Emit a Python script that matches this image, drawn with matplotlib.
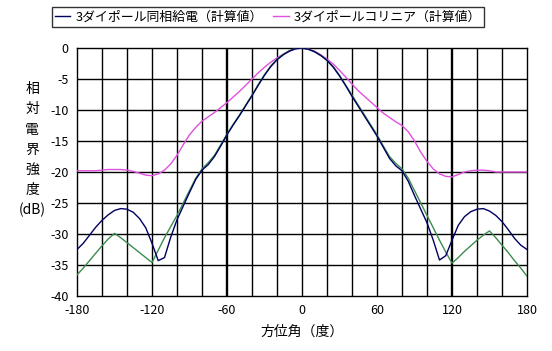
import numpy as np
import matplotlib
matplotlib.use('Agg')
import matplotlib.pyplot as plt

plt.rcParams['font.family'] = ['Noto Sans CJK JP', 'DejaVu Sans']
plt.rcParams['axes.unicode_minus'] = False

# angles, degrees (-180 .. 180, step 5)
angle = np.arange(-180, 181, 5)

# 3ダイポール同相給電 (計算値)
inphase = [-32.5, -31.5, -30.2, -28.9, -27.8, -26.9, -26.2, -25.9, -26.0, -26.5,
           -27.5, -29.0, -31.5, -34.3, -33.8, -30.5, -27.7, -25.5, -23.3, -21.2,
           -19.7, -18.8, -17.5, -15.8, -14.0, -12.4, -10.9, -9.3, -7.7, -6.0,
           -4.4, -3.0, -1.9, -1.1, -0.5, -0.1, 0.0,
           -0.2, -0.6, -1.2, -2.0, -3.1, -4.5, -6.1, -7.8, -9.4, -11.0,
           -12.6, -14.2, -16.0, -17.8, -19.0, -19.8, -21.5, -23.8, -26.0, -28.2,
           -31.0, -34.2, -33.5, -31.0, -28.6, -27.2, -26.4, -26.0, -25.9, -26.3,
           -27.0, -28.0, -29.3, -30.7, -31.8, -32.5]

# 3ダイポールコリニア (計算値)
collinear = [-19.8, -19.8, -19.8, -19.8, -19.7, -19.6, -19.6, -19.6, -19.7, -19.9,
             -20.2, -20.5, -20.6, -20.3, -19.7, -18.7, -17.3, -15.6, -14.0, -12.8,
             -11.8, -11.1, -10.4, -9.6, -8.8, -7.9, -7.0, -6.0, -5.0, -4.0,
             -3.1, -2.3, -1.6, -1.0, -0.5, -0.15, 0.0,
             -0.15, -0.5, -1.1, -1.8, -2.6, -3.6, -4.7, -5.8, -6.9, -7.8,
             -8.7, -9.6, -10.5, -11.2, -11.9, -12.5, -13.5, -15.0, -16.8, -18.3,
             -19.5, -20.3, -20.7, -20.8, -20.4, -20.0, -19.8, -19.7, -19.7, -19.8,
             -20.0, -20.0, -20.0, -20.0, -20.0, -20.0]

# third curve (no legend entry)
third = [-36.6, -35.5, -34.3, -33.1, -31.9, -30.8, -29.9, -30.6, -31.4, -32.2,
         -33.0, -33.8, -34.6, -32.6, -30.6, -28.8, -27.0, -25.0, -23.0, -21.0,
         -19.5, -18.5, -17.3, -15.6, -13.9, -12.3, -10.8, -9.2, -7.6, -5.9,
         -4.3, -2.9, -1.8, -1.0, -0.4, -0.1, 0.0,
         -0.2, -0.6, -1.2, -2.0, -3.0, -4.4, -6.0, -7.6, -9.2, -10.8,
         -12.4, -14.0, -15.8, -17.5, -18.6, -19.5, -21.0, -23.0, -25.0, -27.0,
         -29.0, -31.0, -32.9, -34.7, -33.8, -32.8, -31.9, -31.0, -30.2, -29.5,
         -30.6, -31.8, -33.0, -34.3, -35.5, -36.8]

xticks = [-180, -120, -60, 0, 60, 120, 180]
yticks = list(range(-40, 1, 5))

fig = plt.figure(figsize=(5.52, 3.51), dpi=100)
ax = fig.add_axes([77 / 552, 1 - 296 / 351, 450 / 552, 248 / 351])

# grid
for gx in range(-160, 180, 20):
    lw = 1.7 if gx in (-60, 120) else 1.0
    ax.axvline(gx, color='black', lw=lw, zorder=1)
for gy in range(-35, 0, 5):
    ax.axhline(gy, color='black', lw=1.0, zorder=1)

l1, = ax.plot(angle, inphase, color='#000060', lw=1.0, zorder=4)
l2, = ax.plot(angle, collinear, color='#e050e0', lw=1.0, zorder=3)
ax.plot(angle, third, color='#3c8c50', lw=1.0, zorder=3)

ax.set_xlim(-180, 180)
ax.set_ylim(-40, 0)
ax.set_xticks(xticks)
ax.set_yticks(yticks)
ax.tick_params(length=0, labelsize=9, pad=6)
for s in ax.spines.values():
    s.set_color('black')
    s.set_linewidth(1.0)

ax.set_xlabel('方位角（度）', fontsize=10, labelpad=5)
fig.text(32 / 552, 1 - 150 / 351, '相\n対\n電\n界\n強\n度\n(dB)', fontsize=10,
         ha='center', va='center', linespacing=1.55)

leg = fig.legend([l1, l2], ['3ダイポール同相給電（計算値）', '3ダイポールコリニア（計算値）'],
                 loc='center', bbox_to_anchor=(268 / 552, 1 - 17 / 351), ncol=2,
                 fontsize=9.3, frameon=True, fancybox=False, edgecolor='black',
                 handlelength=1.2, handletextpad=0.4, columnspacing=0.8,
                 borderpad=0.25, borderaxespad=0)
leg.get_frame().set_linewidth(1.0)

fig.savefig('out.png', dpi=100)
